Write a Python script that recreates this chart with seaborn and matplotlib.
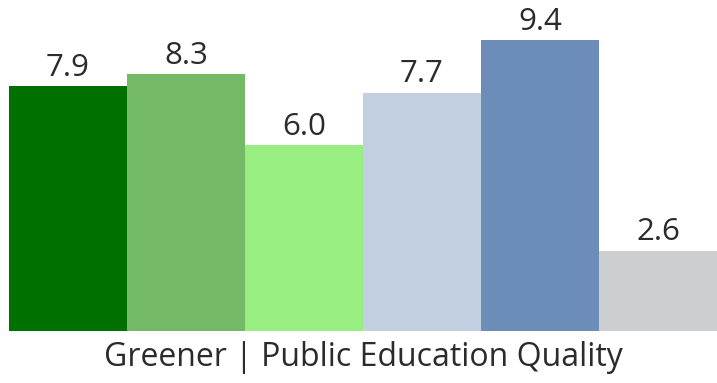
import matplotlib
matplotlib.use("Agg")
import matplotlib.pyplot as plt
import seaborn as sns
import pandas as pd

categories = ["c1", "c2", "c3", "c4", "c5", "c6"]
values = [7.9, 8.3, 6.0, 7.7, 9.4, 2.6]
colors = ["#007000", "#74b966", "#98ee80", "#c2cfe0", "#6d8db9", "#cdcecf"]
xlabel = "Greener | Public Education Quality"

sns.set_theme(style="white")
plt.rcParams["font.family"] = ["Open Sans", "DejaVu Sans"]

df = pd.DataFrame({"cat": categories, "val": values})

W, H = 717, 383
fig = plt.figure(figsize=(W / 100, H / 100), dpi=100)
ax = fig.add_axes([9 / W, 52 / H, 708 / W, 331 / H])

sns.barplot(data=df, x="cat", y="val", hue="cat", palette=colors,
            width=1.0, legend=False, saturation=1, ax=ax, linewidth=0)

ax.set_xlim(-0.5, 5.5)
ax.set_ylim(0, 331 / 30.96)
for s in ax.spines.values():
    s.set_visible(False)
ax.set_xticks([])
ax.set_yticks([])
ax.set_ylabel("")
ax.set_xlabel("")

for i, v in enumerate(values):
    ax.annotate(f"{v:.1f}", (i, v), xytext=(0, 2.5), textcoords="offset points",
                ha="center", va="bottom", fontsize=22.5, color="#2b2b2b")

fig.text((9 + 708 / 2) / W, (H - 358) / H, xlabel, ha="center", va="center",
         fontsize=23, color="#2b2b2b")

fig.savefig("out.png", dpi=100)
